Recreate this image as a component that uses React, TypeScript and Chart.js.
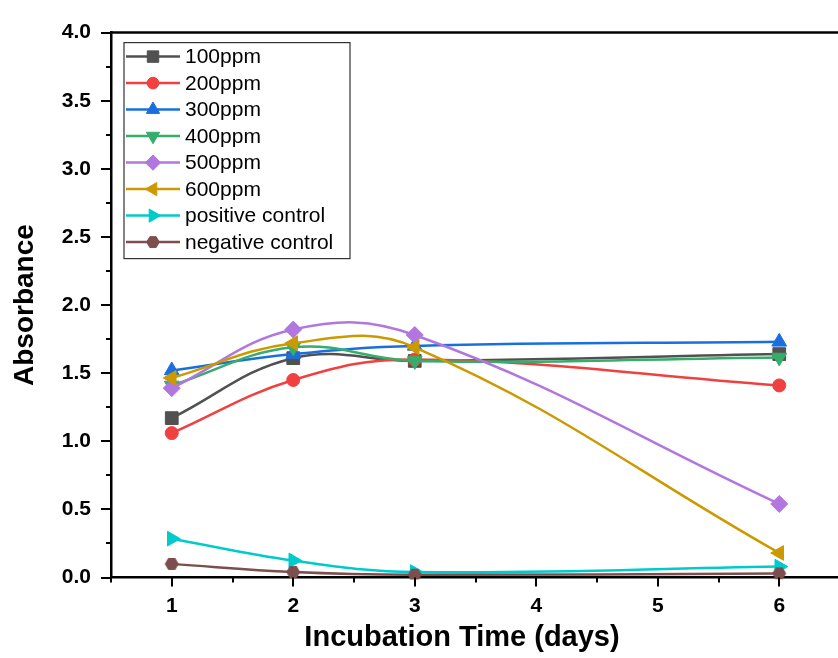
import React, { useEffect, useRef } from 'react';
import { Chart, registerables } from 'chart.js';

Chart.register(...registerables);

// ---- data ----
const days = [1, 2, 3, 6];
const seriesNames = ['100ppm', '200ppm', '300ppm', '400ppm', '500ppm', '600ppm', 'positive control', 'negative control'];
const v100 = [1.17, 1.61, 1.59, 1.64];
const v200 = [1.06, 1.45, 1.6, 1.41];
const v300 = [1.52, 1.64, 1.7, 1.73];
const v400 = [1.41, 1.69, 1.59, 1.615];
const v500 = [1.39, 1.82, 1.78, 0.54];
const v600 = [1.465, 1.72, 1.69, 0.18];
const vPositive = [0.285, 0.125, 0.04, 0.08];
const vNegative = [0.1, 0.04, 0.02, 0.03];
const seriesValues = [v100, v200, v300, v400, v500, v600, vPositive, vNegative];
const xTickValues = [1, 2, 3, 4, 5, 6];
const yTickStep = 0.5;
const xTitle = 'Incubation Time (days)';
const yTitle = 'Absorbance';

const colors = ['#515151', '#F14040', '#1A6FDF', '#37AD6B', '#B177DE', '#CC9900', '#00CBCC', '#7D4E4E'];
const markers: { style: string; rot: number; r: number }[] = [
  { style: 'rect', rot: 0, r: 9 },
  { style: 'circle', rot: 0, r: 6.5 },
  { style: 'triangle', rot: 0, r: 8.5 },
  { style: 'triangle', rot: 180, r: 8.5 },
  { style: 'rectRot', rot: 0, r: 8.5 },
  { style: 'triangle', rot: 270, r: 8.5 },
  { style: 'triangle', rot: 90, r: 8.5 },
  { style: 'hexagon', rot: 0, r: 7 },
];

const FONT = '"Liberation Sans", Arial, sans-serif';

function hexPath(ctx: CanvasRenderingContext2D, cx: number, cy: number, r: number) {
  ctx.beginPath();
  for (let i = 0; i < 6; i++) {
    const a = (Math.PI / 3) * i;
    const px = cx + r * Math.cos(a);
    const py = cy + r * Math.sin(a);
    if (i === 0) ctx.moveTo(px, py);
    else ctx.lineTo(px, py);
  }
  ctx.closePath();
}

function hexImage(color: string, r: number) {
  const c = document.createElement('canvas');
  const size = Math.ceil(2 * r + 2);
  c.width = size;
  c.height = size;
  const ctx = c.getContext('2d')!;
  ctx.fillStyle = color;
  hexPath(ctx, size / 2, size / 2, r);
  ctx.fill();
  return c;
}

function drawMarker(ctx: CanvasRenderingContext2D, m: { style: string; rot: number; r: number }, x: number, y: number, color: string) {
  ctx.save();
  ctx.fillStyle = color;
  ctx.strokeStyle = color;
  ctx.lineWidth = 1;
  const r = m.r;
  if (m.style === 'rect') {
    const s = r * Math.SQRT1_2;
    ctx.beginPath();
    ctx.rect(x - s, y - s, 2 * s, 2 * s);
  } else if (m.style === 'circle') {
    ctx.beginPath();
    ctx.arc(x, y, r, 0, Math.PI * 2);
  } else if (m.style === 'triangle') {
    let rad = (m.rot * Math.PI) / 180;
    ctx.beginPath();
    for (let i = 0; i < 3; i++) {
      const px = x + Math.sin(rad) * r;
      const py = y - Math.cos(rad) * r;
      if (i === 0) ctx.moveTo(px, py);
      else ctx.lineTo(px, py);
      rad += (2 * Math.PI) / 3;
    }
    ctx.closePath();
  } else if (m.style === 'rectRot') {
    ctx.beginPath();
    ctx.moveTo(x, y - r);
    ctx.lineTo(x + r, y);
    ctx.lineTo(x, y + r);
    ctx.lineTo(x - r, y);
    ctx.closePath();
  } else {
    hexPath(ctx, x, y, r);
  }
  ctx.fill();
  ctx.stroke();
  ctx.restore();
}

const frameAndTicks = {
  id: 'frameAndTicks',
  afterDraw(chart: any) {
    const { ctx, chartArea } = chart;
    const xs = chart.scales.x;
    const ys = chart.scales.y;
    ctx.save();
    ctx.strokeStyle = '#000';
    ctx.lineWidth = 2.5;
    // top frame line
    ctx.beginPath();
    ctx.moveTo(chartArea.left - 1, chartArea.top);
    ctx.lineTo(chartArea.right + 2, chartArea.top);
    ctx.stroke();
    ctx.lineWidth = 2;
    // y ticks (major + minor)
    for (let v = ys.min; v <= ys.max + 1e-9; v += yTickStep / 2) {
      const major = Math.abs(v / yTickStep - Math.round(v / yTickStep)) < 1e-6;
      const py = Math.round(ys.getPixelForValue(v));
      ctx.beginPath();
      ctx.moveTo(chartArea.left, py);
      ctx.lineTo(chartArea.left - (major ? 10 : 5), py);
      ctx.stroke();
    }
    // x ticks (major + minor)
    for (let v = xs.min; v <= xs.max + 1e-9; v += 0.5) {
      const major = Math.abs(v - Math.round(v)) < 1e-6;
      const px = Math.round(xs.getPixelForValue(v));
      ctx.beginPath();
      ctx.moveTo(px, chartArea.bottom);
      ctx.lineTo(px, chartArea.bottom + (major ? 9 : 5));
      ctx.stroke();
    }
    // x axis title (Origin places it slightly left of centre)
    ctx.fillStyle = '#000';
    ctx.font = `bold 29px ${FONT}`;
    ctx.textAlign = 'center';
    ctx.textBaseline = 'middle';
    ctx.fillText(xTitle, chartArea.left + 351, chartArea.bottom + 60);
    ctx.restore();
  },
};

const customLegend = {
  id: 'customLegend',
  afterDraw(chart: any) {
    const { ctx, chartArea } = chart;
    const bx = chartArea.left + 13;
    const by = chartArea.top + 10;
    const bw = 226;
    const bh = 216;
    ctx.save();
    ctx.fillStyle = '#fff';
    ctx.fillRect(bx, by, bw, bh);
    ctx.strokeStyle = '#333';
    ctx.lineWidth = 1.2;
    ctx.strokeRect(bx, by, bw, bh);
    ctx.font = `21px ${FONT}`;
    ctx.textBaseline = 'middle';
    ctx.textAlign = 'left';
    seriesNames.forEach((name, i) => {
      const cy = by + 14 + i * 26.5;
      ctx.strokeStyle = colors[i];
      ctx.lineWidth = 2.5;
      ctx.beginPath();
      ctx.moveTo(bx + 2, cy);
      ctx.lineTo(bx + 56, cy);
      ctx.stroke();
      drawMarker(ctx, { ...markers[i], r: markers[i].r * 0.9 }, bx + 29, cy, colors[i]);
      ctx.fillStyle = '#000';
      ctx.fillText(name, bx + 61, cy + 1);
    });
    ctx.restore();
  },
};

export default function App() {
  const canvasRef = useRef<HTMLCanvasElement | null>(null);

  useEffect(() => {
    if (!canvasRef.current) return;
    const datasets = seriesNames.map((name, i) => {
      const m = markers[i];
      const pointStyle: any = m.style === 'hexagon' ? hexImage(colors[i], m.r) : m.style;
      return {
        label: name,
        data: days.map((d, j) => ({ x: d, y: seriesValues[i][j] })),
        borderColor: colors[i],
        backgroundColor: colors[i],
        borderWidth: 2.5,
        tension: 0.4,
        pointStyle,
        pointRotation: m.rot,
        pointRadius: m.r,
        pointBorderWidth: 1,
        pointBorderColor: colors[i],
        pointBackgroundColor: colors[i],
        order: seriesNames.length - i,
        clip: 2,
      };
    });

    const chart = new Chart(canvasRef.current, {
      type: 'line',
      data: { datasets },
      options: {
        animation: false,
        responsive: false,
        layout: { padding: { left: 0, top: 22, right: 4, bottom: 0 } },
        plugins: {
          legend: { display: false },
          tooltip: { enabled: false },
        },
        scales: {
          x: {
            type: 'linear',
            min: 0.5,
            max: 6.5,
            afterBuildTicks: (scale: any) => {
              scale.ticks = xTickValues.map((v) => ({ value: v }));
            },
            afterFit: (scale: any) => {
              scale.height = 80.5;
            },
            grid: { display: false, drawTicks: false },
            border: { display: true, color: '#000', width: 2.5 },
            ticks: {
              padding: 16,
              color: '#000',
              font: { family: FONT, size: 21, weight: 'bold' },
              maxRotation: 0,
              callback: (v: any) => String(v),
            },
            title: { display: false },
          },
          y: {
            type: 'linear',
            min: 0,
            max: 4,
            afterFit: (scale: any) => {
              scale.width = 111;
            },
            grid: { display: false, drawTicks: false },
            border: { display: true, color: '#000', width: 2.5 },
            ticks: {
              stepSize: yTickStep,
              padding: 20,
              color: '#000',
              font: { family: FONT, size: 21, weight: 'bold' },
              callback: (v: any) => Number(v).toFixed(1),
            },
            title: {
              display: true,
              text: yTitle,
              color: '#000',
              font: { family: FONT, size: 28, weight: 'bold' },
              padding: { top: 8, bottom: 0 },
            },
          },
        },
      } as any,
      plugins: [frameAndTicks, customLegend],
    });
    return () => chart.destroy();
  }, []);

  return (
    <div style={{ position: 'fixed', left: 0, top: 0, width: 838, height: 658, overflow: 'hidden', background: '#fff' }}>
      <canvas ref={canvasRef} width={850} height={658} style={{ display: 'block' }} />
    </div>
  );
}
